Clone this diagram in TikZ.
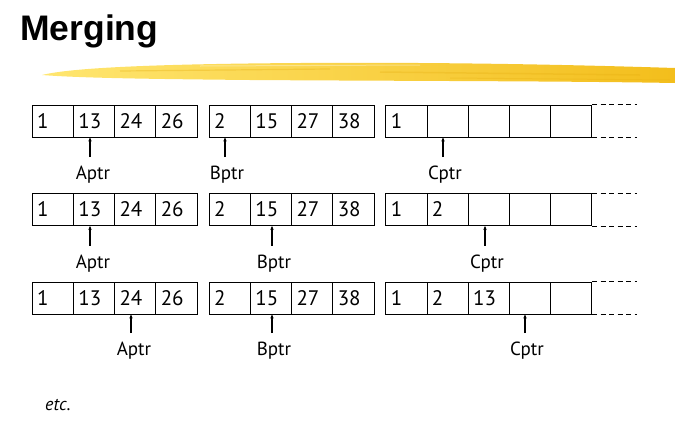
\documentclass[tikz,border=0pt]{standalone}
\usepackage{fontspec}
\setmainfont{PT Sans}
\newfontfamily\titlefont{Liberation Sans}
\usetikzlibrary{arrows.meta}
\definecolor{brushA}{HTML}{FFE670}
\definecolor{brushB}{HTML}{F3BE1C}
\definecolor{brushC}{HTML}{E6AE10}
\begin{document}
\begin{tikzpicture}[x=1pt,y=-1pt,
  cell/.style={draw,line width=0.9pt,minimum height=32pt,inner xsep=5pt,inner ysep=0pt,
    text width=31.2pt,align=left,text height=14.5pt,text depth=0pt,
    font=\fontsize{21}{21}\selectfont,anchor=west},
  lab/.style={font=\fontsize{19}{19}\selectfont,inner sep=0pt},
  ptr/.style={line width=1.5pt,-{Stealth[length=4pt,width=3.4pt]},shorten <=9pt},
  dashline/.style={line width=0.8pt,dash pattern=on 5pt off 3.5pt}]
\useasboundingbox (0,0) rectangle (675,429);
% title
\node[anchor=base west,inner sep=0pt,font=\titlefont\bfseries\fontsize{35.5}{35.5}\selectfont] (title) at (20,40) {Merging};
% brush stroke
\shade[left color=brushA,right color=brushB]
  (42,75) .. controls (70,68) and (150,64) .. (300,63)
  .. controls (450,62) and (580,65) .. (675,68) -- (675,83)
  .. controls (560,81) and (400,81) .. (250,80)
  .. controls (150,79) and (80,78) .. (42,75) -- cycle;
\draw[brushC,opacity=0.35,line width=1.2pt] (120,71) -- (330,69);
\draw[brushC,opacity=0.3,line width=1.5pt] (380,72) -- (640,75);
\draw[white,opacity=0.35,line width=1pt] (200,66) -- (420,65);
\draw[brushC,opacity=0.3,line width=1pt] (450,78) -- (670,80);
% rows
\foreach \r/\y/\cvals in {1/121/{1,{},{},{},{}},2/209.5/{1,2,{},{},{}},3/298/{1,2,13,{},{}}}{
  \foreach \v [count=\i] in {1,13,24,26}
    \node[cell] (r\r a\i) at (31.7+41.2*\i-41.2,\y) {\v};
  \foreach \v [count=\i] in {2,15,27,38}
    \node[cell] (r\r b\i) at (208.7+41.2*\i-41.2,\y) {\v};
  \foreach \v [count=\i] in \cvals
    \node[cell] (r\r c\i) at (385.3+41.2*\i-41.2,\y) {\v};
  \draw[dashline] (r\r c5.north east) -- ++(45,0);
  \draw[dashline] (r\r c5.south east) -- ++(45,0);
}
% pointer labels
\node[lab] (a1) at (93,175) {Aptr};
\node[lab] (b1) at (227,175) {Bptr};
\node[lab] (c1) at (445,175) {Cptr};
\node[lab] (a2) at (93,263.5) {Aptr};
\node[lab] (b2) at (274,263.5) {Bptr};
\node[lab] (c2) at (487,263.5) {Cptr};
\node[lab] (a3) at (134,351) {Aptr};
\node[lab] (b3) at (274,351) {Bptr};
\node[lab] (c3) at (527,351) {Cptr};
% pointers
\draw[ptr] ([xshift=-3pt]a1.north) -- ([xshift=-3pt]a1.north |- r1a2.south);
\draw[ptr] ([xshift=-2pt]b1.north) -- ([xshift=-2pt]b1.north |- r1b1.south);
\draw[ptr] ([xshift=-2pt]c1.north) -- ([xshift=-2pt]c1.north |- r1c2.south);
\draw[ptr] ([xshift=-3pt]a2.north) -- ([xshift=-3pt]a2.north |- r2a2.south);
\draw[ptr] ([xshift=-2pt]b2.north) -- ([xshift=-2pt]b2.north |- r2b2.south);
\draw[ptr] ([xshift=-2pt]c2.north) -- ([xshift=-2pt]c2.north |- r2c3.south);
\draw[ptr] ([xshift=-3pt]a3.north) -- ([xshift=-3pt]a3.north |- r3a3.south);
\draw[ptr] ([xshift=-2pt]b3.north) -- ([xshift=-2pt]b3.north |- r3b2.south);
\draw[ptr] ([xshift=-2pt]c3.north) -- ([xshift=-2pt]c3.north |- r3c4.south);
% etc.
\node[anchor=base west,inner sep=0pt,font=\itshape\fontsize{18}{18}\selectfont] (etc) at (45,410) {etc.};
\end{tikzpicture}
\end{document}
